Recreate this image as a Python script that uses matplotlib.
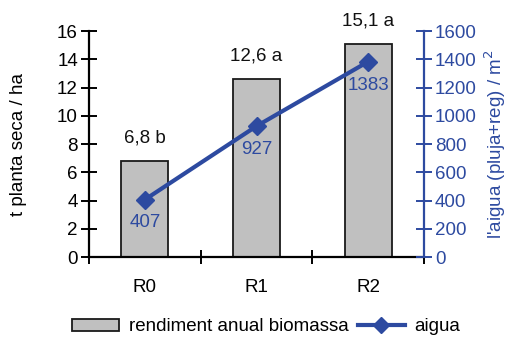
import matplotlib
matplotlib.use("Agg")
import matplotlib.pyplot as plt
from matplotlib.patches import Patch
from matplotlib.lines import Line2D
from matplotlib.ticker import FixedLocator

plt.rcParams['font.family'] = ['Liberation Sans', 'DejaVu Sans']

categories = ["R0", "R1", "R2"]
biomassa = [6.8, 12.6, 15.1]
biomassa_labels = ["6,8 b", "12,6 a", "15,1 a"]
aigua = [407, 927, 1383]

blue = "#2d4aa0"
grey = "#c0c0c0"
fs = 13.5

fig = plt.figure(figsize=(5.12, 3.37), dpi=100)
ax = fig.add_axes([0.174, 0.237, 0.654, 0.671])
x = list(range(len(categories)))

ax.bar(x, biomassa, width=0.42, color=grey, edgecolor="#1a1a1a", linewidth=1.3, zorder=2)
for xi, v, lab in zip(x, biomassa, biomassa_labels):
    ax.text(xi, v + 1.0, lab, ha="center", va="bottom", fontsize=fs, color="#111111")

ax.set_xlim(-0.5, 2.5)
ax.set_ylim(0, 16)
ax.set_yticks(range(0, 17, 2))
ax.set_xticks(x)
ax.set_xticklabels(categories, fontsize=fs)
ax.xaxis.set_minor_locator(FixedLocator([-0.5, 0.5, 1.5, 2.5]))
ax.tick_params(axis="x", which="major", length=0, pad=16)
ax.tick_params(axis="x", which="minor", direction="inout", length=10, width=1.4)
ax.tick_params(axis="y", direction="inout", length=12, width=1.4, labelsize=fs, pad=2)
ax.set_ylabel("t planta seca / ha", fontsize=fs)
ax.yaxis.set_label_coords(-0.185, 0.5)
for s in ["top", "right"]:
    ax.spines[s].set_visible(False)
ax.spines["left"].set_linewidth(1.6)
ax.spines["bottom"].set_linewidth(1.6)

ax2 = ax.twinx()
ax2.plot(x, aigua, color=blue, linewidth=3, marker="D", markersize=9, zorder=3)
for xi, v in zip(x, aigua):
    ax2.text(xi, v - 105, str(v), ha="center", va="top", fontsize=fs, color=blue)
ax2.set_ylim(0, 1600)
ax2.set_yticks(range(0, 1601, 200))
ax2.tick_params(axis="y", direction="inout", length=12, width=1.4, labelsize=fs,
                colors=blue, pad=2)
ax2.set_ylabel("l'aigua (pluja+reg) / m$^2$", fontsize=fs, color=blue, rotation=90,
               labelpad=4)
for s in ["top", "left", "bottom"]:
    ax2.spines[s].set_visible(False)
ax2.spines["right"].set_color(blue)
ax2.spines["right"].set_linewidth(1.6)

handles = [
    Patch(facecolor=grey, edgecolor="#1a1a1a", linewidth=1.3),
    Line2D([0], [0], color=blue, linewidth=3, marker="D", markersize=8),
]
fig.legend(handles, ["rendiment anual biomassa", "aigua"], loc="lower center",
           bbox_to_anchor=(0.52, -0.045), ncol=2, frameon=False, fontsize=fs,
           handlelength=2.5, handleheight=0.6, handletextpad=0.5, columnspacing=0.5)

fig.savefig("out.png", dpi=100)
